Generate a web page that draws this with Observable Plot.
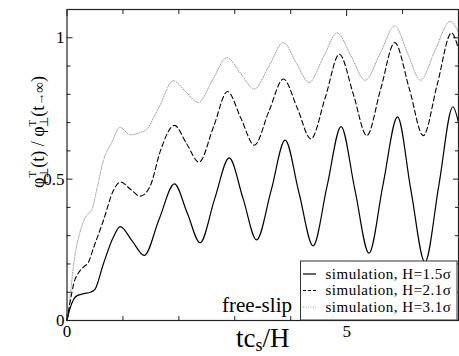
<!DOCTYPE html>
<html>
<head>
<meta charset="utf-8">
<script src="https://cdn.jsdelivr.net/npm/d3@7"></script>
<script src="https://cdn.jsdelivr.net/npm/@observablehq/plot@0.6"></script>
<style>
  html, body { margin: 0; padding: 0; background: #fff; }
  svg { display: block; }
  svg text { font-family: "Liberation Serif", serif !important; }
</style>
</head>
<body>
<div id="chart"></div>
<script>
// ---- data ----
const seriesNames = ["simulation, H=1.5σ", "simulation, H=2.1σ", "simulation, H=3.1σ"];

const xA = [0, 0.05, 0.12, 0.18, 0.3, 0.42, 0.5, 0.65, 0.83, 0.95, 1.17, 1.38, 1.65, 1.92, 2.15, 2.38, 2.64, 2.90, 3.15, 3.39, 3.65, 3.90, 4.15, 4.40, 4.65, 4.90, 5.15, 5.40, 5.65, 5.91, 6.15, 6.40, 6.65, 6.90, 7.0];
const yA = [0, 0.04, 0.075, 0.088, 0.095, 0.1, 0.11, 0.2, 0.295, 0.332, 0.28, 0.23, 0.36, 0.483, 0.38, 0.275, 0.43, 0.575, 0.43, 0.285, 0.46, 0.638, 0.45, 0.264, 0.475, 0.686, 0.46, 0.238, 0.48, 0.72, 0.46, 0.206, 0.48, 0.756, 0.70];

const xB = [0, 0.06, 0.12, 0.21, 0.3, 0.38, 0.48, 0.65, 0.83, 0.96, 1.13, 1.31, 1.49, 1.67, 1.92, 2.14, 2.36, 2.62, 2.87, 3.11, 3.35, 3.61, 3.87, 4.12, 4.36, 4.62, 4.87, 5.12, 5.36, 5.61, 5.86, 6.12, 6.37, 6.62, 6.875, 7.0];
const yB = [0, 0.07, 0.13, 0.17, 0.19, 0.205, 0.26, 0.353, 0.46, 0.49, 0.465, 0.44, 0.477, 0.6, 0.69, 0.625, 0.56, 0.685, 0.81, 0.715, 0.62, 0.74, 0.854, 0.75, 0.642, 0.79, 0.942, 0.8, 0.654, 0.82, 0.983, 0.82, 0.654, 0.835, 1.017, 0.96];

const xC = [0, 0.03, 0.08, 0.12, 0.24, 0.33, 0.45, 0.54, 0.65, 0.8, 0.95, 1.13, 1.31, 1.43, 1.55, 1.66, 1.9, 2.12, 2.35, 2.6, 2.86, 3.1, 3.35, 3.61, 3.87, 4.1, 4.33, 4.58, 4.83, 5.08, 5.33, 5.6, 5.86, 6.09, 6.32, 6.58, 6.85, 7.0];
const yC = [0, 0.04, 0.13, 0.2, 0.318, 0.365, 0.395, 0.47, 0.565, 0.63, 0.683, 0.657, 0.665, 0.677, 0.718, 0.76, 0.848, 0.81, 0.771, 0.85, 0.93, 0.875, 0.819, 0.9, 0.983, 0.91, 0.842, 0.93, 1.017, 0.935, 0.85, 0.945, 1.042, 0.945, 0.85, 0.955, 1.058, 1.02];

const xMajorTicks = [0, 5];
const xMinorTicks = [1, 2, 3, 4, 6];
const yMajorTicks = [0, 0.5, 1];
const yMinorTicks = [0.1, 0.2, 0.3, 0.4, 0.6, 0.7, 0.8, 0.9];

const toRows = (xs, ys) => xs.map((x, i) => ({x, y: ys[i]}));
const A = toRows(xA, yA), B = toRows(xB, yB), C = toRows(xC, yC);

const styles = [
  {stroke: "#000", strokeWidth: 1.2, strokeDasharray: null},
  {stroke: "#000", strokeWidth: 1.1, strokeDasharray: "5,3"},
  {stroke: "#999", strokeWidth: 1.0, strokeDasharray: "1,1.5"}
];

const W = 459, H = 356;
const font = "Liberation Serif";

const tickAx = (anchor, ticks, size) => {
  const isX = anchor === "top" || anchor === "bottom";
  const o = {anchor, ticks, tickSize: size, fill: "none", label: null, stroke: "#222", strokeWidth: 1};
  if (anchor === "bottom") o.dy = -size;
  if (anchor === "top") o.dy = size;
  if (anchor === "left") o.dx = size;
  if (anchor === "right") o.dx = -size;
  return isX ? Plot.axisX(o) : Plot.axisY(o);
};

const plot = Plot.plot({
  width: W, height: H,
  marginLeft: 66.5, marginRight: 1, marginTop: 9, marginBottom: 36,
  style: {fontFamily: font, fontSize: "17px", background: "#fff", color: "#000"},
  x: {domain: [0, 7]},
  y: {domain: [0, 1.1]},
  marks: [
    Plot.line(C, {x: "x", y: "y", curve: "monotone-x", ...styles[2]}),
    Plot.line(B, {x: "x", y: "y", curve: "monotone-x", ...styles[1]}),
    Plot.line(A, {x: "x", y: "y", curve: "monotone-x", ...styles[0]}),
    tickAx("bottom", xMajorTicks, 6), tickAx("bottom", xMinorTicks, 4),
    tickAx("top", xMajorTicks, 6), tickAx("top", xMinorTicks, 4),
    tickAx("left", yMajorTicks, 6), tickAx("left", yMinorTicks, 4),
    tickAx("right", yMajorTicks, 6), tickAx("right", yMinorTicks, 4),
    Plot.axisX({anchor: "bottom", ticks: xMajorTicks, tickSize: 0, tickPadding: 4, tickFormat: d => String(d), label: null, fontSize: 17}),
    Plot.axisY({anchor: "left", ticks: yMajorTicks, tickSize: 0, tickPadding: 2.5, tickFormat: d => String(d), label: null, fontSize: 17}),
    Plot.frame({stroke: "#222", strokeWidth: 1.2})
  ]
});
document.getElementById("chart").appendChild(plot);

// ---- labels and legend ----
const svg = d3.select(plot);
const xs = plot.scale("x");

// x label: tc_s/H
const xl = svg.append("text")
  .attr("x", (xs.range[0] + xs.range[1]) / 2 + 0.5).attr("y", 347)
  .attr("text-anchor", "middle").attr("font-size", 27).attr("fill", "#000");
xl.append("tspan").text("tc");
xl.append("tspan").attr("font-size", 18).attr("dy", 4).text("s");
xl.append("tspan").attr("dy", -4).text("/H");

// y label
const yl = svg.append("text")
  .attr("transform", "translate(44,132) rotate(-90)")
  .attr("text-anchor", "middle").attr("font-size", 18).attr("fill", "#000");
const phiPart = () => {
  yl.append("tspan").text("φ");
  yl.append("tspan").attr("font-size", 11).attr("dy", -8).text("T");
  yl.append("tspan").attr("font-size", 12).attr("dx", -7).attr("dy", 12).text("⊥");
};
phiPart();
yl.append("tspan").attr("dy", -4).text("(t) / ");
phiPart();
yl.append("tspan").attr("dy", -4).text("(t");
yl.append("tspan").attr("font-size", 13).text("→");
yl.append("tspan").attr("font-size", 15).text("∞");
yl.append("tspan").text(")");

// free-slip
svg.append("text").attr("x", 222).attr("y", 311.5).attr("text-anchor", "start")
  .attr("font-size", 21).attr("fill", "#000").text("free-slip");

// legend
const lg = svg.append("g");
lg.append("rect").attr("x", 300.5).attr("y", 261).attr("width", 156.5).attr("height", 59)
  .attr("fill", "#fff").attr("stroke", "#333").attr("stroke-width", 1);
const rowsY = [274, 290.5, 307];
seriesNames.forEach((name, i) => {
  lg.append("line").attr("x1", 303).attr("x2", 316).attr("y1", rowsY[i]).attr("y2", rowsY[i])
    .attr("stroke", styles[i].stroke).attr("stroke-width", styles[i].strokeWidth)
    .attr("stroke-dasharray", i === 1 ? "3,2" : styles[i].strokeDasharray);
  lg.append("text").attr("x", 325.5).attr("y", rowsY[i] + 4.5).attr("text-anchor", "start")
    .attr("font-size", 15).attr("letter-spacing", 0.5).attr("fill", "#000").text(name);
});
</script>
</body>
</html>
